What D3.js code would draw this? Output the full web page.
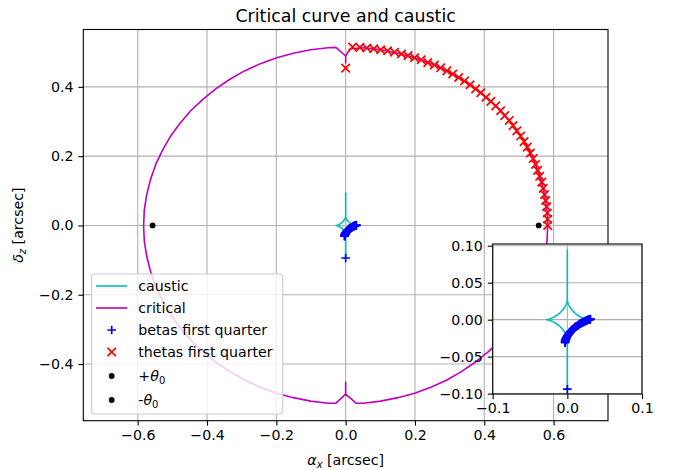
<!DOCTYPE html>
<html><head><meta charset="utf-8">
<script src="https://cdn.jsdelivr.net/npm/d3@7"></script>
<style>
body{margin:0;background:#fff}
svg{display:block}
text{font-family:"DejaVu Sans",sans-serif;fill:#000}
</style>
</head><body>
<svg id="c" width="677" height="470"></svg>
<script>
// ---------------- data ----------------
const causticPts = [
 [0.0280,0.0000],[0.0277,0.0000],[0.0267,0.0001],[0.0252,0.0005],[0.0221,0.0015],[0.0182,0.0033],[0.0140,0.0059],[0.0099,0.0092],[0.0063,0.0130],[0.0035,0.0169],[0.0016,0.0205],[0.0005,0.0234],[0.0002,0.0248],[0.0000,0.0257],[0.0000,0.0260],
 [0.0000,0.0940],[0.0000,0.0260],
 [-0.0000,0.0257],[-0.0002,0.0248],[-0.0005,0.0234],[-0.0016,0.0205],[-0.0035,0.0169],[-0.0063,0.0130],[-0.0099,0.0092],[-0.0140,0.0059],[-0.0182,0.0033],[-0.0221,0.0015],[-0.0252,0.0005],[-0.0267,0.0001],[-0.0277,0.0000],[-0.0280,0.0000],
 [-0.0277,-0.0000],[-0.0267,-0.0001],[-0.0252,-0.0005],[-0.0221,-0.0015],[-0.0182,-0.0033],[-0.0140,-0.0059],[-0.0099,-0.0092],[-0.0063,-0.0130],[-0.0035,-0.0169],[-0.0016,-0.0205],[-0.0005,-0.0234],[-0.0002,-0.0248],[0.0000,-0.0257],[0.0000,-0.0260],
 [0.0000,-0.0930],[0.0000,-0.0260],
 [0.0000,-0.0257],[0.0002,-0.0248],[0.0005,-0.0234],[0.0016,-0.0205],[0.0035,-0.0169],[0.0063,-0.0130],[0.0099,-0.0092],[0.0140,-0.0059],[0.0182,-0.0033],[0.0221,-0.0015],[0.0252,-0.0005],[0.0267,-0.0001],[0.0277,-0.0000],[0.0280,0.0000]
];
const criticalPts = [
 [0.583,0.000],[0.581,0.045],[0.574,0.089],[0.563,0.133],[0.548,0.176],[0.528,0.218],[0.505,0.258],[0.478,0.295],[0.447,0.331],[0.412,0.364],[0.375,0.394],[0.334,0.422],[0.292,0.446],[0.246,0.467],[0.199,0.484],[0.151,0.497],[0.101,0.507],[0.051,0.513],[0.013,0.510],
 [0.000,0.489],[0.000,0.469],[0.000,0.489],
 [-0.028,0.514],[-0.051,0.513],[-0.101,0.507],[-0.151,0.497],[-0.199,0.484],[-0.246,0.467],[-0.292,0.446],[-0.334,0.422],[-0.375,0.394],[-0.412,0.364],[-0.447,0.331],[-0.478,0.295],[-0.505,0.258],[-0.528,0.218],[-0.548,0.176],[-0.563,0.133],[-0.574,0.089],[-0.581,0.045],[-0.583,0.000],
 [-0.581,-0.045],[-0.574,-0.089],[-0.563,-0.133],[-0.548,-0.176],[-0.528,-0.218],[-0.505,-0.258],[-0.478,-0.295],[-0.447,-0.331],[-0.412,-0.364],[-0.375,-0.394],[-0.334,-0.422],[-0.292,-0.446],[-0.246,-0.467],[-0.199,-0.484],[-0.151,-0.497],[-0.101,-0.507],[-0.051,-0.513],[-0.028,-0.513],
 [0.000,-0.487],[0.000,-0.453],[0.000,-0.487],
 [0.030,-0.513],[0.051,-0.513],[0.101,-0.507],[0.151,-0.497],[0.199,-0.484],[0.246,-0.467],[0.292,-0.446],[0.334,-0.422],[0.375,-0.394],[0.412,-0.364],[0.447,-0.331],[0.478,-0.295],[0.505,-0.258],[0.528,-0.218],[0.548,-0.176],[0.563,-0.133],[0.574,-0.089],[0.581,-0.045],[0.583,0.000]
];
const betasPts = [
 [-0.003,-0.031],[-0.003,-0.030],[-0.003,-0.029],[-0.0025,-0.028],[-0.002,-0.027],[-0.002,-0.0265],[-0.002,-0.026],[-0.0015,-0.025],[-0.001,-0.024],[-0.0005,-0.023],
 [0.000,-0.022],[0.0005,-0.0215],[0.001,-0.021],[0.0015,-0.020],[0.002,-0.019],[0.0025,-0.0185],[0.003,-0.018],[0.0035,-0.017],[0.004,-0.016],[0.005,-0.0155],
 [0.006,-0.015],[0.0065,-0.014],[0.007,-0.013],[0.008,-0.0125],[0.009,-0.012],[0.0095,-0.011],[0.010,-0.010],[0.011,-0.0095],[0.012,-0.009],[0.013,-0.0085],
 [0.014,-0.008],[0.015,-0.007],[0.016,-0.006],[0.017,-0.0055],[0.018,-0.005],[0.019,-0.0045],[0.020,-0.004],[0.021,-0.0035],[0.022,-0.003],[0.023,-0.0025],
 [0.024,-0.002],[0.025,-0.0015],[0.026,-0.001],[0.027,-0.0005],[0.028,0.000],[0.029,0.000],[0.030,0.000],[0.0305,0.0005],[0.031,0.001],
 [0.000,-0.094]
];
const thetasPts = [
 [0.020,0.515],[0.041,0.514],[0.061,0.512],[0.081,0.510],[0.101,0.507],[0.121,0.504],[0.141,0.500],[0.161,0.495],[0.180,0.490],[0.199,0.484],
 [0.218,0.478],[0.237,0.470],[0.256,0.463],[0.274,0.455],[0.292,0.446],[0.309,0.437],[0.326,0.427],[0.343,0.417],[0.359,0.406],[0.375,0.394],
 [0.390,0.383],[0.405,0.370],[0.419,0.358],[0.433,0.345],[0.447,0.331],[0.459,0.317],[0.472,0.303],[0.483,0.288],[0.494,0.273],[0.505,0.258],
 [0.515,0.242],[0.524,0.226],[0.533,0.209],[0.541,0.193],[0.548,0.176],[0.554,0.159],[0.560,0.142],[0.566,0.125],[0.570,0.107],[0.574,0.089],
 [0.577,0.072],[0.580,0.054],[0.582,0.036],[0.583,0.018],[0.583,0.000],
 [0.000,0.454]
];
const thetaPlus = [[0.557,0.000]];
const thetaMinus = [[-0.557,0.000]];
const xTicks = [-0.6,-0.4,-0.2,0.0,0.2,0.4,0.6];
const yTicks = [-0.4,-0.2,0.0,0.2,0.4];
const insetXTicks = [-0.1,0.0,0.1];
const insetYTicks = [-0.10,-0.05,0.00,0.05,0.10];
const legendLabels = ["caustic","critical","betas first quarter","thetas first quarter","+θ0","-θ0"];

// ---------------- layout ----------------
const svg = d3.select("#c");
const M = {l:83.3, r:608, t:29.5, b:420.7};
const x = d3.scaleLinear([-0.757,0.757],[M.l,M.r]);
const y = d3.scaleLinear([-0.5635,0.5655],[M.b,M.t]);
const I = {l:492.7, r:642, t:244, b:394};
const xi = d3.scaleLinear([-0.1,0.1],[I.l,I.r]);
const yi = d3.scaleLinear([-0.1005,0.1023],[I.b,I.t]);

const C = {c:"#00bfbf", m:"#bf00bf", b:"#0000ff", r:"#ff0000", k:"#000"};
const GRID = "#b0b0b0";
const FS = 14.2;
const MW = 1.7;

const defs = svg.append("defs");
defs.append("clipPath").attr("id","clipMain").append("rect")
  .attr("x",M.l).attr("y",M.t).attr("width",M.r-M.l).attr("height",M.b-M.t);
defs.append("clipPath").attr("id","clipInset").append("rect")
  .attr("x",I.l).attr("y",I.t).attr("width",I.r-I.l).attr("height",I.b-I.t);

const plusPath = "M-4.3,0H4.3M0,-4.3V4.3";
const xPath = "M-4.2,-4.2L4.2,4.2M-4.2,4.2L4.2,-4.2";

function drawPanel(g, sx, sy, xt, yt, clipId, withAll){
  const gg = g.append("g");
  gg.selectAll("line.vx").data(xt).join("line")
    .attr("x1",d=>sx(d)).attr("x2",d=>sx(d)).attr("y1",sy.range()[0]).attr("y2",sy.range()[1])
    .attr("stroke",GRID).attr("stroke-width",1.1);
  gg.selectAll("line.hy").data(yt).join("line")
    .attr("y1",d=>sy(d)).attr("y2",d=>sy(d)).attr("x1",sx.range()[0]).attr("x2",sx.range()[1])
    .attr("stroke",GRID).attr("stroke-width",1.1);
  const d = g.append("g").attr("clip-path",`url(#${clipId})`);
  const line = d3.line().x(p=>sx(p[0])).y(p=>sy(p[1]));
  d.append("path").attr("d",line(causticPts)).attr("fill","none").attr("stroke",C.c).attr("stroke-width",1.6).attr("stroke-linejoin","round");
  if(withAll){
    d.append("path").attr("d",line(criticalPts)).attr("fill","none").attr("stroke",C.m).attr("stroke-width",1.6).attr("stroke-linejoin","round");
  }
  d.selectAll("path.beta").data(betasPts).join("path").attr("class","beta")
    .attr("transform",p=>`translate(${sx(p[0])},${sy(p[1])})`).attr("d",plusPath)
    .attr("stroke",C.b).attr("stroke-width",MW).attr("fill","none");
  if(withAll){
    d.selectAll("path.theta").data(thetasPts).join("path").attr("class","theta")
      .attr("transform",p=>`translate(${sx(p[0])},${sy(p[1])})`).attr("d",xPath)
      .attr("stroke",C.r).attr("stroke-width",MW).attr("fill","none");
    d.selectAll("circle.tp").data(thetaPlus.concat(thetaMinus)).join("circle").attr("class","tp")
      .attr("cx",p=>sx(p[0])).attr("cy",p=>sy(p[1])).attr("r",2.9).attr("fill",C.k);
  }
}

const gm = svg.append("g");
drawPanel(gm, x, y, xTicks, yTicks, "clipMain", true);

const fmt1 = d3.format(".1f");
const ax = svg.append("g").attr("transform",`translate(0,${M.b})`)
  .call(d3.axisBottom(x).tickValues(xTicks).tickFormat(fmt1).tickSize(4.9).tickPadding(4.4));
const ay = svg.append("g").attr("transform",`translate(${M.l},0)`)
  .call(d3.axisLeft(y).tickValues(yTicks).tickFormat(fmt1).tickSize(4.9).tickPadding(4.9));
[ax,ay].forEach(a=>{
  a.select(".domain").remove();
  a.selectAll("line").attr("stroke","#000").attr("stroke-width",1.1);
  a.selectAll("text").attr("font-size",FS).attr("font-family","DejaVu Sans");
});
svg.append("rect").attr("x",M.l).attr("y",M.t).attr("width",M.r-M.l).attr("height",M.b-M.t)
  .attr("fill","none").attr("stroke","#000").attr("stroke-width",1.1);

// legend
const lg = svg.append("g");
const LB = {x:91.7, y:274, w:191, h:140};
lg.append("rect").attr("x",LB.x).attr("y",LB.y).attr("width",LB.w).attr("height",LB.h).attr("rx",2.8)
  .attr("fill","#fff").attr("fill-opacity",0.8).attr("stroke","#cccccc").attr("stroke-width",1.1);
const rowY = [286,308,330,352,376,400];
const hx0 = 96, hx1 = 127.3, hxc = 111.7, tx = 138.3;
legendLabels.forEach((lab,i)=>{
  const cy = rowY[i];
  if(i===0||i===1){
    lg.append("line").attr("x1",hx0).attr("x2",hx1).attr("y1",cy).attr("y2",cy)
      .attr("stroke",i===0?C.c:C.m).attr("stroke-width",1.6);
  } else if(i===2){
    lg.append("path").attr("transform",`translate(${hxc},${cy})`).attr("d",plusPath).attr("stroke",C.b).attr("stroke-width",MW);
  } else if(i===3){
    lg.append("path").attr("transform",`translate(${hxc},${cy})`).attr("d",xPath).attr("stroke",C.r).attr("stroke-width",MW);
  } else {
    lg.append("circle").attr("cx",hxc).attr("cy",cy).attr("r",2.9).attr("fill",C.k);
  }
  const t = lg.append("text").attr("x",tx).attr("y",cy+5).attr("font-size",FS);
  if(i<4){ t.text(lab); }
  else {
    t.append("tspan").text(lab.slice(0,1));
    t.append("tspan").attr("font-style","italic").text(lab.slice(1,2));
    t.append("tspan").attr("font-size",FS*0.7).attr("dy",2.8).text(lab.slice(2));
  }
});

// inset
const gi = svg.append("g");
gi.append("rect").attr("x",I.l).attr("y",I.t).attr("width",I.r-I.l).attr("height",I.b-I.t).attr("fill","#fff");
drawPanel(gi, xi, yi, insetXTicks, insetYTicks, "clipInset", false);
const aix = svg.append("g").attr("transform",`translate(0,${I.b})`)
  .call(d3.axisBottom(xi).tickValues(insetXTicks).tickFormat(fmt1).tickSize(4.9).tickPadding(4.4));
const aiy = svg.append("g").attr("transform",`translate(${I.l},0)`)
  .call(d3.axisLeft(yi).tickValues(insetYTicks).tickFormat(d3.format(".2f")).tickSize(4.9).tickPadding(4.9));
[aix,aiy].forEach(a=>{
  a.select(".domain").remove();
  a.selectAll("line").attr("stroke","#000").attr("stroke-width",1.1);
  a.selectAll("text").attr("font-size",FS).attr("font-family","DejaVu Sans");
});
svg.append("rect").attr("x",I.l).attr("y",I.t).attr("width",I.r-I.l).attr("height",I.b-I.t)
  .attr("fill","none").attr("stroke","#000").attr("stroke-width",1.1);

// title & labels
const cx = (M.l+M.r)/2;
svg.append("text").attr("x",cx).attr("y",22).attr("text-anchor","middle").attr("font-size",17.4).text("Critical curve and caustic");
const xl = svg.append("text").attr("x",cx).attr("y",465).attr("text-anchor","middle").attr("font-size",FS);
xl.append("tspan").attr("font-style","italic").text("α");
xl.append("tspan").attr("font-style","italic").attr("font-size",FS*0.7).attr("dy",2.8).text("x");
xl.append("tspan").attr("dy",-2.8).text(" [arcsec]");
const yl = svg.append("text").attr("transform",`translate(23,${(M.t+M.b)/2}) rotate(-90)`).attr("text-anchor","middle").attr("font-size",FS);
yl.append("tspan").attr("font-style","italic").text("δ");
yl.append("tspan").attr("font-style","italic").attr("font-size",FS*0.7).attr("dy",2.8).text("z");
yl.append("tspan").attr("dy",-2.8).text(" [arcsec]");
</script>
</body></html>
